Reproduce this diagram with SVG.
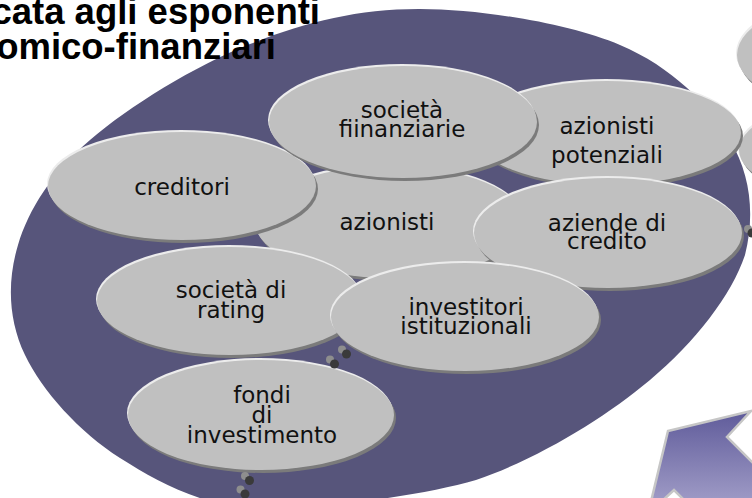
<svg xmlns="http://www.w3.org/2000/svg" width="752" height="498" viewBox="0 0 752 498">
  <defs>
    <style>
      .sh { fill: #7b7b7b; }
      .hl { fill: #ececec; }
      .bd { fill: #c0c0c0; }
      .lbl { font-family: "DejaVu Sans", Verdana, sans-serif; font-size: 23px; fill: #111111; text-anchor: middle; }
      .title { font-family: "Liberation Sans", Arial, sans-serif; font-size: 36.5px; font-weight: bold; fill: #000000; text-anchor: end; }
      .bl { fill: #8e8e8e; }
      .bk { fill: #3a3a3a; }
    </style>
    <linearGradient id="arrowFill" gradientUnits="userSpaceOnUse" x1="0" y1="411" x2="0" y2="498">
      <stop offset="0" stop-color="#5f5b9a"/>
      <stop offset="1" stop-color="#9c98c4"/>
    </linearGradient>
  </defs>

  <rect width="752" height="498" fill="#ffffff"/>

  <!-- backdrop disc -->
  <path id="disc" fill="#57557b" d="M420,9 C481.7,9.2 568.3,23.2 620,45 C671.7,66.8 709.2,105 730,140 C750.8,175 755,215 745,255 C731.7,295 694.8,342.5 650,380 C605.2,417.5 539.3,458.3 476,480 C425,495 330,508 270,508 C210.7,511 160.8,483.8 120,458 C79.2,432.2 42,390.5 25,355 C8,319.5 7.2,280.8 18,245 C28.8,209.2 51.3,173.5 90,140 C128.7,106.5 195,65.8 250,44 C305,22.2 358.3,8.8 420,9 Z"/>

  <!-- title -->
  <text class="title" x="320" y="24">cata agli esponenti</text>
  <text class="title" x="276" y="59">omico-finanziari</text>

  <!-- partly visible ovals at the right border -->
  <g id="right-top">
    <ellipse class="sh" cx="869" cy="58" rx="130" ry="58"/>
    <ellipse class="hl" cx="866" cy="53" rx="130" ry="58"/>
    <ellipse class="bd" cx="867" cy="55" rx="130" ry="58"/>
  </g>
  <g id="right-mid">
    <ellipse class="sh" cx="871" cy="153" rx="130" ry="51"/>
    <ellipse class="hl" cx="868" cy="148" rx="130" ry="51"/>
    <ellipse class="bd" cx="869" cy="150" rx="130" ry="51"/>
  </g>

  <g id="azionisti-potenziali">
    <ellipse class="sh" cx="609" cy="136" rx="134" ry="52"/>
    <ellipse class="hl" cx="606" cy="131" rx="134" ry="52"/>
    <ellipse class="bd" cx="607" cy="133" rx="134" ry="52"/>
    <text class="lbl"><tspan x="607" y="134">azionisti</tspan><tspan x="607" y="163">potenziali</tspan></text>
  </g>

  <g id="azionisti">
    <ellipse class="sh" cx="392" cy="225" rx="135" ry="56"/>
    <ellipse class="hl" cx="389" cy="220" rx="135" ry="56"/>
    <ellipse class="bd" cx="390" cy="222" rx="135" ry="56"/>
    <text class="lbl" x="387" y="230">azionisti</text>
  </g>

  <g id="creditori">
    <ellipse class="sh" cx="184" cy="189" rx="134" ry="54"/>
    <ellipse class="hl" cx="181" cy="184" rx="134" ry="54"/>
    <ellipse class="bd" cx="182" cy="186" rx="134" ry="54"/>
    <text class="lbl" x="182" y="195">creditori</text>
  </g>

  <g id="societa-finanziarie">
    <ellipse class="sh" cx="405" cy="125" rx="134" ry="56"/>
    <ellipse class="hl" cx="402" cy="120" rx="134" ry="56"/>
    <ellipse class="bd" cx="403" cy="122" rx="134" ry="56"/>
    <text class="lbl"><tspan x="402" y="118">società</tspan><tspan x="402" y="137">fiinanziarie</tspan></text>
  </g>

  <g id="societa-rating">
    <ellipse class="sh" cx="232" cy="304" rx="133" ry="54"/>
    <ellipse class="hl" cx="229" cy="299" rx="133" ry="54"/>
    <ellipse class="bd" cx="230" cy="301" rx="133" ry="54"/>
    <text class="lbl"><tspan x="231" y="298">società di</tspan><tspan x="231" y="318">rating</tspan></text>
  </g>

  <g id="aziende-credito">
    <ellipse class="sh" cx="610" cy="236" rx="134" ry="55"/>
    <ellipse class="hl" cx="607" cy="231" rx="134" ry="55"/>
    <ellipse class="bd" cx="608" cy="233" rx="134" ry="55"/>
    <text class="lbl"><tspan x="607" y="231">aziende di</tspan><tspan x="607" y="249">credito</tspan></text>
  </g>

  <g id="investitori-istituzionali">
    <ellipse class="sh" cx="467" cy="320" rx="134" ry="54"/>
    <ellipse class="hl" cx="464" cy="315" rx="134" ry="54"/>
    <ellipse class="bd" cx="465" cy="317" rx="134" ry="54"/>
    <text class="lbl"><tspan x="466" y="315">investitori</tspan><tspan x="466" y="334">istituzionali</tspan></text>
  </g>

  <g id="fondi-investimento">
    <ellipse class="sh" cx="263" cy="418" rx="133" ry="55"/>
    <ellipse class="hl" cx="260" cy="413" rx="133" ry="55"/>
    <ellipse class="bd" cx="261" cy="415" rx="133" ry="55"/>
    <text class="lbl"><tspan x="262" y="403">fondi</tspan><tspan x="262" y="423">di</tspan><tspan x="262" y="443">investimento</tspan></text>
  </g>

  <!-- bead links between ovals -->
  <g id="connectors">
    <circle class="bl" cx="342" cy="349.5" r="4"/>
    <circle class="bk" cx="346.5" cy="354" r="4.5"/>
    <circle class="bl" cx="330" cy="359.5" r="4"/>
    <circle class="bk" cx="334.5" cy="364" r="4.5"/>
    <circle class="bl" cx="245" cy="476" r="4"/>
    <circle class="bk" cx="249.5" cy="480.5" r="4.5"/>
    <circle class="bl" cx="240.5" cy="489.5" r="4"/>
    <circle class="bk" cx="245" cy="494" r="4.5"/>
    <circle class="bl" cx="748" cy="229" r="4"/>
    <circle class="bk" cx="752" cy="233" r="4.5"/>
  </g>

  <!-- block arrow pointing up-left -->
  <polygon id="arrow" points="668,431 751,411 727,437 827,537 774,590 674,490 648,514" fill="url(#arrowFill)" stroke="#c6c6c6" stroke-width="2.5" stroke-linejoin="miter"/>
</svg>
